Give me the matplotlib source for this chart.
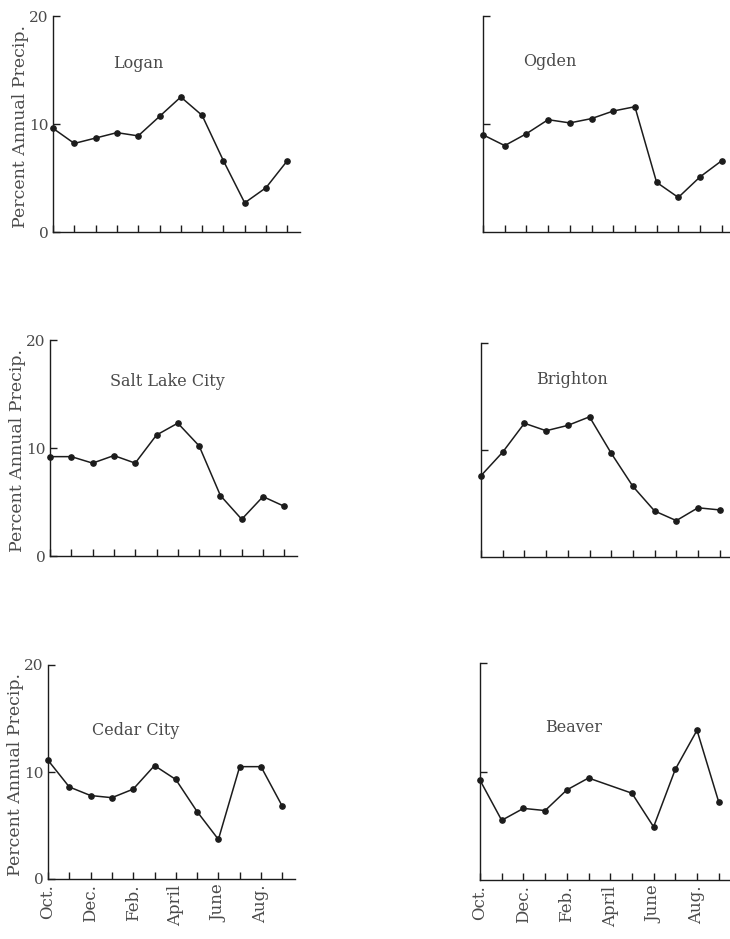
import matplotlib
matplotlib.use("Agg")
import matplotlib.pyplot as plt

plt.rcParams['font.family'] = ['DejaVu Serif']

months = ['Oct.', '', 'Dec.', '', 'Feb.', '', 'April', '', 'June', '', 'Aug.', '']

logan = [9.6, 8.2, 8.7, 9.2, 8.9, 10.7, 12.5, 10.8, 6.6, 2.7, 4.1, 6.6]
ogden = [9.0, 8.0, 9.1, 10.4, 10.1, 10.5, 11.2, 11.6, 4.6, 3.2, 5.1, 6.6]
salt_lake = [9.2, 9.2, 8.6, 9.3, 8.6, 11.2, 12.3, 10.2, 5.6, 3.4, 5.5, 4.6]
brighton = [7.6, 9.8, 12.5, 11.8, 12.3, 13.1, 9.7, 6.6, 4.3, 3.4, 4.6, 4.4]
cedar_city = [11.1, 8.6, 7.8, 7.6, 8.4, 10.6, 9.3, 6.3, 3.7, 10.5, 10.5, 6.8]
beaver = [9.2, 5.5, 6.6, 6.4, 8.3, 9.4, None, 8.0, 4.9, 10.2, 13.8, 7.2]

stations = ['Logan', 'Ogden', 'Salt Lake City', 'Brighton', 'Cedar City', 'Beaver']
series = [logan, ogden, salt_lake, brighton, cedar_city, beaver]
# title positions in data units
title_pos = [(4.0, 15.6), (3.1, 15.8), (5.5, 16.2), (4.2, 16.6), (4.1, 13.9), (4.3, 14.1)]

W, H = 730, 939
# axes boxes in pixels: left, top, bottom, px per month
boxes = [
    (53, 16, 232, 21.3), (483, 16, 232, 21.7),
    (50, 340, 556, 21.3), (481, 343, 557, 21.7),
    (48, 665, 879, 21.3), (480, 663, 880, 21.7),
]

ink = '#1c1c1c'
txt = '#4a4a4a'

fig = plt.figure(figsize=(W / 100, H / 100), dpi=100)

for i, (name, vals) in enumerate(zip(stations, series)):
    left, top, bottom, step = boxes[i]
    xmax = 11.6
    ax = fig.add_axes([left / W, 1 - bottom / H, xmax * step / W, (bottom - top) / H])
    xs = [m for m, v in enumerate(vals) if v is not None]
    ys = [v for v in vals if v is not None]
    ax.plot(xs, ys, color=ink, lw=1.1, marker='o', ms=3.8, clip_on=False)
    ax.set_xlim(0, xmax)
    ax.set_ylim(0, 20)
    for s in ['top', 'right']:
        ax.spines[s].set_visible(False)
    for s in ['left', 'bottom']:
        ax.spines[s].set_color(ink)
        ax.spines[s].set_linewidth(1.0)
    ax.tick_params(direction='in', length=5, width=1.0, color=ink, labelcolor=txt, labelsize=11)
    ax.set_xticks(range(12))
    if i >= 4:
        ax.set_xticklabels(months, rotation=90, fontsize=12)
        ax.tick_params(axis='x', pad=4)
    else:
        ax.set_xticklabels([])
    if i % 2 == 0:
        ax.set_yticks([0, 10, 20])
        ax.set_yticklabels(['0', '10', '20'])
        ax.tick_params(axis='y', pad=3)
        ax.text(-0.13, 0.49, 'Percent Annual Precip.', transform=ax.transAxes,
                rotation=90, ha='center', va='center', fontsize=12.5, color=txt)
    else:
        ax.set_yticks([10, 20])
        ax.set_yticklabels([])
    tx, ty = title_pos[i]
    ax.text(tx, ty, name, ha='center', va='center', fontsize=11.5, color=txt)

fig.savefig('out.png', dpi=100, facecolor='white')
